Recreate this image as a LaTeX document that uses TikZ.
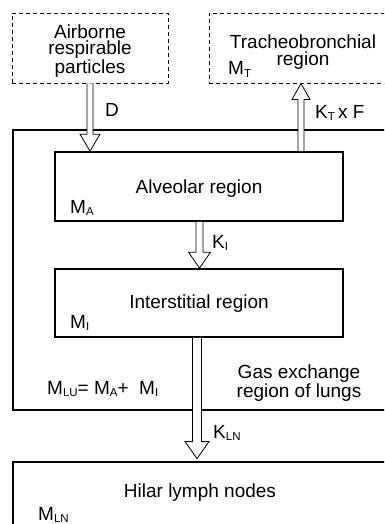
\documentclass[tikz,border=0pt]{standalone}
\usepackage{fontspec}
\setmainfont{Liberation Sans}
\usetikzlibrary{calc}
\newcommand{\lsub}[1]{\raisebox{-2.5pt}{\fontsize{11.5}{11.5}\selectfont #1}}
\newcommand{\vblock}[5]{%
  \fill[white] ($(#1)+(-#3,0)$) -- ($(#2)+(-#3,#5)$) -- ($(#2)+(-#4,#5)$) -- (#2) -- ($(#2)+(#4,#5)$) -- ($(#2)+(#3,#5)$) -- ($(#1)+(#3,0)$) -- cycle;
  \draw[barrow] ($(#1)+(-#3,0)$) -- ($(#2)+(-#3,#5)$) -- ($(#2)+(-#4,#5)$) -- (#2) -- ($(#2)+(#4,#5)$) -- ($(#2)+(#3,#5)$) -- ($(#1)+(#3,0)$);
}
\begin{document}
\begin{tikzpicture}[x=1pt,y=-1pt,
  txt/.style={font=\fontsize{19}{16.5}\selectfont, inner sep=0pt},
  dbox/.style={draw, dash pattern=on 4pt off 3pt, line width=0.9pt, inner sep=0pt},
  rbox/.style={draw, line width=1.7pt, inner sep=0pt},
  obox/.style={draw, line width=2.8pt, inner sep=0pt},
  barrow/.style={draw, line width=0.8pt, line join=miter}]
\useasboundingbox (0,0) rectangle (384,524);
\clip (0,0) rectangle (384,524);
% boxes
\node[dbox, minimum width=156pt, minimum height=70pt] (air) at (90,48) {};
\node[dbox, minimum width=186pt, minimum height=70pt] (tra) at (302,48) {};
\node[obox, minimum width=382pt, minimum height=280pt] (lung) at (204,270) {};
\node[rbox, minimum width=288pt, minimum height=69pt] (alv) at (199,186.5) {};
\node[rbox, minimum width=288pt, minimum height=68pt] (int) at (199,303) {};
\node[obox, minimum width=382pt, minimum height=80pt] (hil) at (204,502) {};
% arrow coordinates
\coordinate (dx) at (90,0);
\coordinate (tx) at (301,0);
\coordinate (ix) at (199.5,0);
\coordinate (lx) at (197,0);
\coordinate (Ds) at (air.south -| dx);
\coordinate (De) at (alv.north -| dx);
\coordinate (Ts) at (alv.north -| tx);
\coordinate (Te) at (tra.south -| tx);
\coordinate (Is) at (alv.south -| ix);
\coordinate (Ie) at (int.north -| ix);
\coordinate (Ls) at (int.south -| lx);
\coordinate (Le) at ($(hil.north -| lx)+(0,-2)$);
\vblock{Ds}{De}{3}{10}{-17}
\vblock{Ts}{Te}{3}{9}{16}
\vblock{Is}{Ie}{3.5}{11}{-16}
\vblock{Ls}{Le}{4.5}{12}{-17}
% texts
\node[txt, align=center] (airt) at (90,51) {Airborne\\respirable\\particles};
\node[txt, align=center] (trat) at (303,52) {Tracheobronchial\\region};
\node[txt, anchor=base west] (mt) at (228,75) {M\lsub{T}};
\node[txt, anchor=base west] (dl) at (105,117) {D};
\node[txt, anchor=base west] (ktl) at (315,118) {K\lsub{T}\,x F};
\node[txt, anchor=base] (alvt) at (199,193) {Alveolar region};
\node[txt, anchor=base west] (ma) at (70,213) {M\lsub{A}};
\node[txt, anchor=base west] (kil) at (212,248) {K\lsub{I}};
\node[txt, anchor=base] (intt) at (199,308) {Interstitial region};
\node[txt, anchor=base west] (mi) at (70,328) {M\lsub{I}};
\node[txt, anchor=base west] (mlu) at (47,394) {M\lsub{LU}= M\lsub{A}+ \ M\lsub{I}};
\node[txt, align=center] (gas) at (299,383) {Gas exchange\\region of lungs};
\node[txt, anchor=base west] (kln) at (213,438) {K\lsub{LN}};
\node[txt, anchor=base] (hilt) at (200,497) {Hilar lymph nodes};
\node[txt, anchor=base west] (mln) at (38,520) {M\lsub{LN}};
\end{tikzpicture}
\end{document}
